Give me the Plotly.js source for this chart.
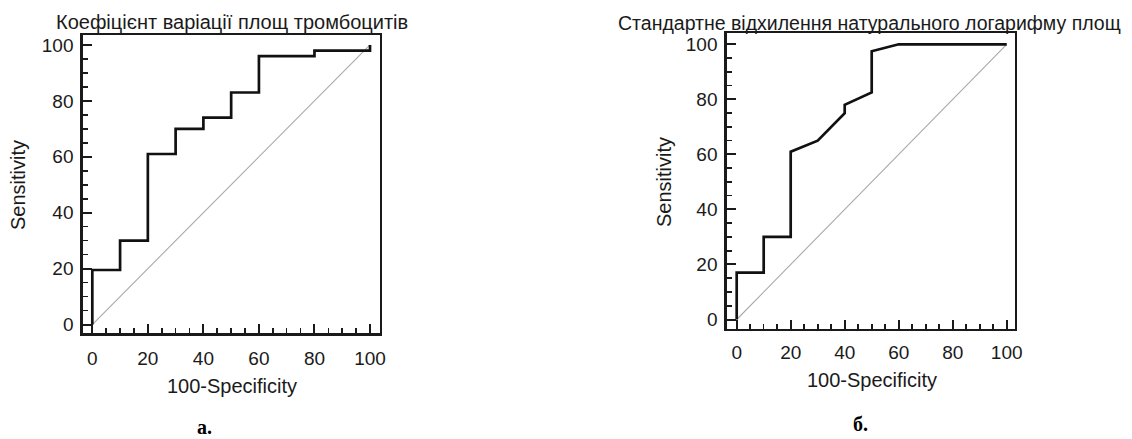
<!DOCTYPE html>
<html>
<head>
<meta charset="utf-8">
<script src="https://cdn.plot.ly/plotly-3.0.1.min.js"></script>
<style>
  html, body { margin: 0; padding: 0; background: #ffffff; }
  #chart { width: 1132px; height: 439px; }
</style>
</head>
<body>
<div id="chart"></div>
<script>
// ---- Data ----
// Panel a: coefficient of variation of platelet areas
const rocA_x = [0, 0, 10, 10, 20, 20, 30, 30, 40, 40, 50, 50, 60, 60, 80, 80, 100, 100];
const rocA_y = [0, 19.5, 19.5, 30, 30, 61, 61, 70, 70, 74, 74, 83, 83, 96, 96, 98, 98, 100];
// Panel b: SD of natural logarithm of platelet areas
const rocB_x = [0, 0, 10, 10, 20, 20, 30, 40, 40, 50, 50, 60, 100];
const rocB_y = [0, 17, 17, 30, 30, 61, 65, 75, 78, 82.5, 97.5, 100, 100];
// Reference (chance) line
const diag_x = [0, 100];
const diag_y = [0, 100];

const titleA = "Коефіцієнт варіації площ тромбоцитів";
const titleB = "Стандартне відхилення натурального логарифму площ";
const xTitle = "100-Specificity";
const yTitle = "Sensitivity";
const panelA = "а.";
const panelB = "б.";
const tickVals = [0, 20, 40, 60, 80, 100];
const minorStep = 5;

// ---- Styling / layout ----
const W = 1132, H = 439;
const px = v => v / W;
const py = v => 1 - v / H;
const FONT = "Liberation Sans, Arial, Helvetica, sans-serif";
const SERIF = "Liberation Serif, Times New Roman, serif";
const INK = "#1a1a1a";

const rangeAx = [-3.46, 103.6], rangeAy = [-3.14, 103.57];
const rangeBx = [-3.7, 103.07], rangeBy = [-3.27, 104.0];

function axisMajor(extra) {
  return Object.assign({
    showline: true, linewidth: 2.4, linecolor: INK, mirror: true,
    ticks: "inside", ticklen: 9, tickwidth: 2, tickcolor: INK,
    tickmode: "linear", tick0: tickVals[0], dtick: tickVals[1] - tickVals[0],
    showgrid: false, zeroline: false, fixedrange: true,
    tickfont: { family: FONT, size: 19, color: INK }
  }, extra);
}
// overlaid axes that only carry the minor ticks (every 5 units)
function axisMinor(extra) {
  return Object.assign({
    showline: false, showticklabels: false, showgrid: false, zeroline: false, fixedrange: true,
    ticks: "inside", ticklen: 5, tickwidth: 1.6, tickcolor: INK,
    tickmode: "linear", tick0: 0, dtick: minorStep
  }, extra);
}

const curveStyle = { color: "#111111", width: 2.7 };
const diagStyle = { color: "#a9a9a9", width: 1.1 };

const data = [
  { x: diag_x, y: diag_y, type: "scatter", mode: "lines", line: diagStyle, xaxis: "x", yaxis: "y", hoverinfo: "skip", showlegend: false },
  { x: rocA_x, y: rocA_y, type: "scatter", mode: "lines", line: curveStyle, xaxis: "x", yaxis: "y", name: "а", showlegend: false },
  { x: diag_x, y: diag_y, type: "scatter", mode: "lines", line: diagStyle, xaxis: "x2", yaxis: "y2", hoverinfo: "skip", showlegend: false },
  { x: rocB_x, y: rocB_y, type: "scatter", mode: "lines", line: curveStyle, xaxis: "x2", yaxis: "y2", name: "б", showlegend: false },
  // empty traces so the overlaid minor-tick axes get drawn
  { x: [], y: [], type: "scatter", mode: "lines", xaxis: "x3", yaxis: "y3", hoverinfo: "skip", showlegend: false },
  { x: [], y: [], type: "scatter", mode: "lines", xaxis: "x4", yaxis: "y4", hoverinfo: "skip", showlegend: false }
];

const ann = (text, x, y, opts) => Object.assign({
  text, x: px(x), y: py(y), xref: "paper", yref: "paper",
  xanchor: "center", yanchor: "middle", showarrow: false,
  font: { family: FONT, size: 20, color: INK }
}, opts || {});

const layout = {
  width: W, height: H,
  margin: { l: 0, r: 0, t: 0, b: 0, pad: 0 },
  paper_bgcolor: "#ffffff", plot_bgcolor: "#ffffff",
  showlegend: false,
  xaxis: axisMajor({ domain: [px(82.7), px(380)], range: rangeAx, anchor: "y", ticklabelstandoff: 6 }),
  yaxis: axisMajor({ domain: [py(333.3), py(35)], range: rangeAy, anchor: "x", ticklabelstandoff: 3 }),
  xaxis2: axisMajor({ domain: [px(726.7), px(1015)], range: rangeBx, anchor: "y2", ticklabelstandoff: 5 }),
  yaxis2: axisMajor({ domain: [py(328.5), py(33.3)], range: rangeBy, anchor: "x2", ticklabelstandoff: 3 }),
  xaxis3: axisMinor({ overlaying: "x", matches: "x", range: rangeAx, anchor: "y", side: "bottom" }),
  yaxis3: axisMinor({ overlaying: "y", matches: "y", range: rangeAy, anchor: "x", side: "left" }),
  xaxis4: axisMinor({ overlaying: "x2", matches: "x2", range: rangeBx, anchor: "y2", side: "bottom" }),
  yaxis4: axisMinor({ overlaying: "y2", matches: "y2", range: rangeBy, anchor: "x2", side: "left" }),
  annotations: [
    ann(titleA, 231.7, 22.3),
    ann(titleB, 616, 22.6, { xanchor: "left", font: { family: FONT, size: 19.5, color: INK } }),
    ann(yTitle, 18, 185, { textangle: -90 }),
    ann(yTitle, 664, 182, { textangle: -90 }),
    ann(xTitle, 231.7, 386),
    ann(xTitle, 871.7, 380),
    ann(panelA, 204, 426.5, { font: { family: SERIF, size: 20, color: "#000", weight: "bold" } }),
    ann(panelB, 860, 423.5, { font: { family: SERIF, size: 20, color: "#000", weight: "bold" } })
  ]
};

Plotly.newPlot("chart", data, layout, { staticPlot: true, displayModeBar: false });
</script>
</body>
</html>
